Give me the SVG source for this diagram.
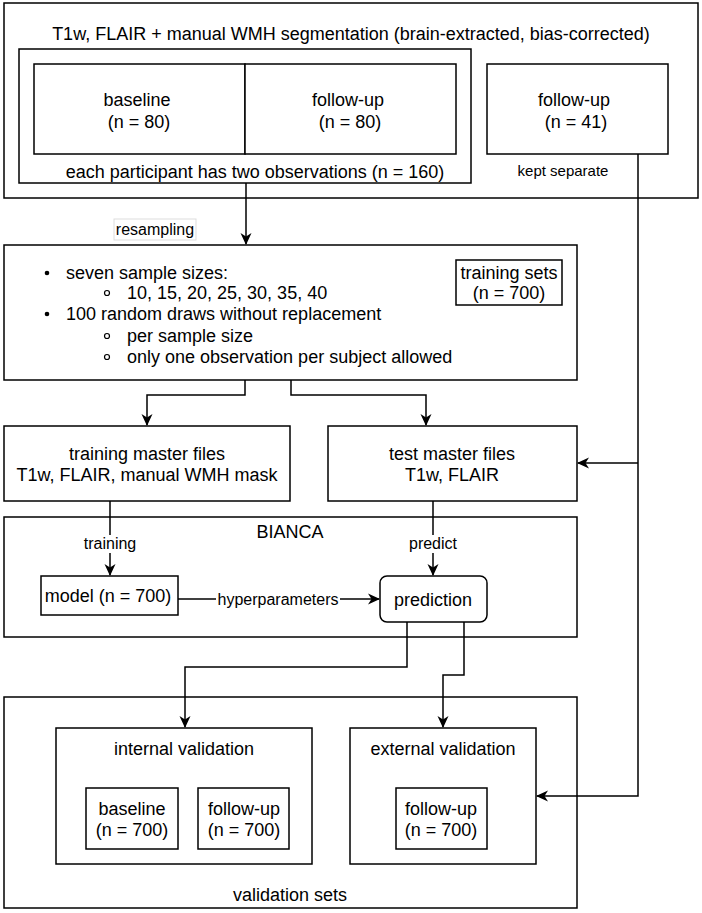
<svg xmlns="http://www.w3.org/2000/svg" width="702" height="913" viewBox="0 0 702 913">
<defs>
<marker id="arr" markerWidth="12" markerHeight="12" refX="11" refY="6" orient="auto" markerUnits="userSpaceOnUse">
<path d="M0,0.5 L12,6 L0,11.5 L3.5,6 z" fill="#000"/>
</marker>
<style>
.box{fill:#fff;stroke:#000;stroke-width:1.5}
.t{font-family:"Liberation Sans",Arial,sans-serif;font-size:18px;fill:#000;text-anchor:middle}
.s{font-family:"Liberation Sans",Arial,sans-serif;font-size:15px;fill:#000;text-anchor:middle}
.m{font-family:"Liberation Sans",Arial,sans-serif;font-size:16px;fill:#000;text-anchor:middle}
.l{font-family:"Liberation Sans",Arial,sans-serif;font-size:18px;fill:#000}
.c{fill:none;stroke:#000;stroke-width:1.5}
</style>
</defs>
<rect width="702" height="913" fill="#fff"/>

<g id="input">
<rect class="box" x="4" y="3" width="694" height="195"/>
<text class="t" x="351" y="40">T1w, FLAIR + manual WMH segmentation (brain-extracted, bias-corrected)</text>
</g>
<g id="paired">
<rect class="box" x="19" y="49" width="452" height="134"/>
<text class="t" x="255" y="178">each participant has two observations (n = 160)</text>
</g>
<g id="baseline-in">
<rect class="box" x="34" y="64" width="211" height="90"/>
<text class="t" x="137" y="106">baseline</text>
<text class="t" x="139" y="128">(n = 80)</text>
</g>
<g id="followup-in">
<rect class="box" x="245" y="64" width="211" height="90"/>
<text class="t" x="348" y="106">follow-up</text>
<text class="t" x="350" y="128">(n = 80)</text>
</g>
<g id="followup-sep">
<rect class="box" x="487" y="64" width="181" height="90"/>
<text class="t" x="574" y="106">follow-up</text>
<text class="t" x="576" y="128">(n = 41)</text>
<text class="s" x="563" y="176">kept separate</text>
</g>

<g id="resampling">
<rect class="box" x="4" y="245" width="573" height="135"/>
<circle cx="47" cy="273" r="2.3" fill="#000"/>
<text class="l" x="66" y="279">seven sample sizes:</text>
<circle cx="107" cy="293" r="2.5" fill="none" stroke="#000" stroke-width="1.2"/>
<text class="l" x="127" y="299">10, 15, 20, 25, 30, 35, 40</text>
<circle cx="47" cy="314" r="2.3" fill="#000"/>
<text class="l" x="66" y="320">100 random draws without replacement</text>
<circle cx="107" cy="336" r="2.5" fill="none" stroke="#000" stroke-width="1.2"/>
<text class="l" x="127" y="342">per sample size</text>
<circle cx="107" cy="357" r="2.5" fill="none" stroke="#000" stroke-width="1.2"/>
<text class="l" x="127" y="363">only one observation per subject allowed</text>
</g>
<g id="training-sets">
<rect class="box" x="456" y="260" width="106" height="45"/>
<text class="t" x="509" y="279">training sets</text>
<text class="t" x="509" y="299">(n = 700)</text>
</g>

<g id="training-master">
<rect class="box" x="4" y="426" width="286" height="75"/>
<text class="t" x="147" y="460">training master files</text>
<text class="t" x="147" y="481">T1w, FLAIR, manual WMH mask</text>
</g>
<g id="test-master">
<rect class="box" x="328" y="426" width="249" height="75"/>
<text class="t" x="452" y="460">test master files</text>
<text class="t" x="452" y="481">T1w, FLAIR</text>
</g>

<g id="bianca">
<rect class="box" x="4" y="517" width="573" height="120"/>
<text class="t" x="290" y="538">BIANCA</text>
</g>
<g id="model">
<rect class="box" x="41" y="576" width="137" height="39"/>
<text class="t" x="108" y="602">model (n = 700)</text>
</g>
<g id="prediction">
<rect class="box" x="380" y="576" width="107" height="46" rx="7"/>
<text class="t" x="433" y="606">prediction</text>
</g>

<g id="validation-sets">
<rect class="box" x="4" y="697" width="573" height="211"/>
<text class="t" x="290" y="901">validation sets</text>
</g>
<g id="internal">
<rect class="box" x="56" y="728" width="256" height="136"/>
<text class="t" x="184" y="755">internal validation</text>
</g>
<g id="int-baseline">
<rect class="box" x="86" y="788" width="92" height="61"/>
<text class="t" x="132" y="815">baseline</text>
<text class="t" x="132" y="836">(n = 700)</text>
</g>
<g id="int-followup">
<rect class="box" x="198" y="788" width="91" height="61"/>
<text class="t" x="244" y="815">follow-up</text>
<text class="t" x="244" y="836">(n = 700)</text>
</g>
<g id="external">
<rect class="box" x="350" y="728" width="186" height="136"/>
<text class="t" x="443" y="755">external validation</text>
</g>
<g id="ext-followup">
<rect class="box" x="396" y="788" width="91" height="61"/>
<text class="t" x="441" y="815">follow-up</text>
<text class="t" x="441" y="836">(n = 700)</text>
</g>

<g id="connectors">
<path class="c" d="M246,183 V244" marker-end="url(#arr)"/>
<rect x="114" y="219" width="82" height="21" fill="#fff" stroke="#ddd" stroke-width="1"/>
<text class="m" x="155" y="235">resampling</text>
<path class="c" d="M245,380 V395 H147 V425" marker-end="url(#arr)"/>
<path class="c" d="M291,380 V395 H426 V425" marker-end="url(#arr)"/>
<path class="c" d="M638,154 V796 H537" marker-end="url(#arr)"/>
<path class="c" d="M638,463 H578" marker-end="url(#arr)"/>
<path class="c" d="M110,501 V575" marker-end="url(#arr)"/>
<rect x="81" y="535" width="58" height="18" fill="#fff"/>
<text class="m" x="110" y="549">training</text>
<path class="c" d="M433,501 V575" marker-end="url(#arr)"/>
<rect x="407" y="535" width="52" height="18" fill="#fff"/>
<text class="m" x="433" y="549">predict</text>
<path class="c" d="M178,599 H379" marker-end="url(#arr)"/>
<rect x="216" y="590" width="124" height="18" fill="#fff"/>
<text class="m" x="278" y="605">hyperparameters</text>
<path class="c" d="M407,622 V667 H185 V727" marker-end="url(#arr)"/>
<path class="c" d="M464,622 V675 H443 V727" marker-end="url(#arr)"/>
</g>
</svg>
